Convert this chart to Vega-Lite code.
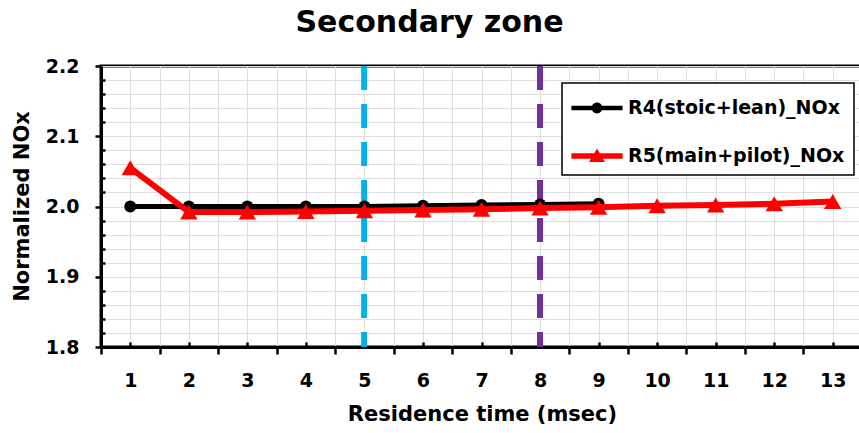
{
  "$schema": "https://vega.github.io/schema/vega-lite/v6.json",
  "width": 761,
  "height": 281,
  "autosize": "none",
  "padding": {"left": 101, "top": 66, "right": 0, "bottom": 86},
  "background": "white",
  "title": {
    "text": "Secondary zone",
    "font": "DejaVu Sans",
    "fontWeight": "bold",
    "fontSize": 30,
    "color": "black",
    "anchor": "middle",
    "dx": -52,
    "dy": 10,
    "baseline": "alphabetic",
    "offset": 5
  },
  "config": {
    "view": {"stroke": "black", "strokeWidth": 3},
    "axis": {
      "labelFont": "DejaVu Sans",
      "labelFontWeight": "bold",
      "labelFontSize": 19,
      "labelColor": "black",
      "titleFont": "DejaVu Sans",
      "titleFontWeight": "bold",
      "titleFontSize": 21,
      "titleColor": "black",
      "domainColor": "black",
      "domainWidth": 3,
      "tickColor": "black",
      "gridColor": "#dedede",
      "gridWidth": 1
    }
  },
  "datasets": {
    "nox": [
      {"t": 1, "series": "R4(stoic+lean)_NOx", "nox": 2.000},
      {"t": 2, "series": "R4(stoic+lean)_NOx", "nox": 2.000},
      {"t": 3, "series": "R4(stoic+lean)_NOx", "nox": 2.000},
      {"t": 4, "series": "R4(stoic+lean)_NOx", "nox": 2.000},
      {"t": 5, "series": "R4(stoic+lean)_NOx", "nox": 2.000},
      {"t": 6, "series": "R4(stoic+lean)_NOx", "nox": 2.001},
      {"t": 7, "series": "R4(stoic+lean)_NOx", "nox": 2.002},
      {"t": 8, "series": "R4(stoic+lean)_NOx", "nox": 2.003},
      {"t": 9, "series": "R4(stoic+lean)_NOx", "nox": 2.004},
      {"t": 1, "series": "R5(main+pilot)_NOx", "nox": 2.055},
      {"t": 2, "series": "R5(main+pilot)_NOx", "nox": 1.992},
      {"t": 3, "series": "R5(main+pilot)_NOx", "nox": 1.992},
      {"t": 4, "series": "R5(main+pilot)_NOx", "nox": 1.993},
      {"t": 5, "series": "R5(main+pilot)_NOx", "nox": 1.994},
      {"t": 6, "series": "R5(main+pilot)_NOx", "nox": 1.995},
      {"t": 7, "series": "R5(main+pilot)_NOx", "nox": 1.996},
      {"t": 8, "series": "R5(main+pilot)_NOx", "nox": 1.998},
      {"t": 9, "series": "R5(main+pilot)_NOx", "nox": 1.999},
      {"t": 10, "series": "R5(main+pilot)_NOx", "nox": 2.001},
      {"t": 11, "series": "R5(main+pilot)_NOx", "nox": 2.002},
      {"t": 12, "series": "R5(main+pilot)_NOx", "nox": 2.004},
      {"t": 13, "series": "R5(main+pilot)_NOx", "nox": 2.007}
    ]
  },
  "data": {"name": "nox"},
  "encoding": {
    "x": {
      "field": "t",
      "type": "quantitative",
      "scale": {"domain": [0.5, 13.5], "nice": false, "zero": false},
      "axis": {
        "title": "Residence time (msec)",
        "titleX": 381,
        "titleY": 67,
        "titleBaseline": "middle",
        "titleAlign": "center",
        "values": [0.5, 1, 1.5, 2, 2.5, 3, 3.5, 4, 4.5, 5, 5.5, 6, 6.5, 7, 7.5, 8, 8.5, 9, 9.5, 10, 10.5, 11, 11.5, 12, 12.5, 13, 13.5],
        "labelExpr": "datum.value % 1 == 0 ? format(datum.value, 'd') : ''",
        "labelPadding": 29,
        "labelFlush": false,
        "labelOverlap": false,
        "grid": true,
        "tickWidth": 2.5,
        "tickSize": {"condition": {"test": "datum.value % 1 == 0", "value": -5}, "value": 7}
      }
    },
    "y": {
      "field": "nox",
      "type": "quantitative",
      "scale": {"domain": [1.8, 2.2], "nice": false, "zero": false},
      "axis": {
        "title": "Normalized NOx",
        "titleX": -79,
        "titleY": 140,
        "titleAngle": -90,
        "titleBaseline": "middle",
        "titleAlign": "center",
        "values": [1.8, 1.82, 1.84, 1.86, 1.88, 1.9, 1.92, 1.94, 1.96, 1.98, 2.0, 2.02, 2.04, 2.06, 2.08, 2.1, 2.12, 2.14, 2.16, 2.18, 2.2],
        "labelExpr": "abs(datum.value * 10 - round(datum.value * 10)) < 0.001 ? format(datum.value, '.1f') : ''",
        "labelPadding": 16,
        "labelOverlap": false,
        "grid": true,
        "tickWidth": 2.5,
        "tickSize": {"condition": {"test": "abs(datum.value * 10 - round(datum.value * 10)) < 0.001", "value": 6}, "value": -4}
      }
    },
    "color": {
      "field": "series",
      "type": "nominal",
      "scale": {"domain": ["R4(stoic+lean)_NOx", "R5(main+pilot)_NOx"], "range": ["#000000", "#ff0000"]},
      "legend": {
        "title": null,
        "orient": "none",
        "legendX": 461,
        "legendY": 17,
        "direction": "vertical",
        "strokeColor": "black",
        "fillColor": "white",
        "padding": 9,
        "symbolSize": 1024,
        "symbolOffset": 10,
        "symbolStrokeWidth": 0,
        "labelFont": "DejaVu Sans",
        "labelFontWeight": "bold",
        "labelFontSize": 19,
        "labelColor": "black",
        "labelOffset": 15,
        "rowPadding": 22,
        "labelLimit": 400,
        "encode": {
          "legend": {"update": {"strokeWidth": {"value": 1.5}}},
          "symbols": {
            "update": {
              "shape": {"signal": "datum.value == 'R4(stoic+lean)_NOx' ? 'M-1.6,-0.14H1.6V0.14H-1.6Z M0,-0.34A0.34,0.34,0,1,1,0,0.34A0.34,0.34,0,1,1,0,-0.34Z' : 'M-1.6,-0.17H1.6V0.17H-1.6Z M0,-0.47L0.5,0.37L-0.5,0.37Z'"},
              "fill": {"signal": "datum.value == 'R4(stoic+lean)_NOx' ? '#000000' : '#ff0000'"},
              "fillOpacity": {"value": 1},
              "strokeWidth": {"value": 0}
            }
          }
        }
      }
    }
  },
  "layer": [
    {
      "mark": {"type": "rule", "color": "#00b0f0", "strokeWidth": 5, "strokeDash": [24, 14]},
      "encoding": {"x": {"datum": 5}, "y": null, "color": null}
    },
    {
      "mark": {"type": "rule", "color": "#7030a0", "strokeWidth": 5, "strokeDash": [24, 14]},
      "encoding": {"x": {"datum": 8}, "y": null, "color": null}
    },
    {
      "transform": [{"filter": "datum.series == 'R4(stoic+lean)_NOx'"}],
      "mark": {"type": "line", "strokeWidth": 5}
    },
    {
      "transform": [{"filter": "datum.series == 'R4(stoic+lean)_NOx'"}],
      "mark": {"type": "point", "shape": "circle", "filled": true, "size": 144, "opacity": 1}
    },
    {
      "transform": [{"filter": "datum.series == 'R5(main+pilot)_NOx'"}],
      "mark": {"type": "line", "strokeWidth": 6}
    },
    {
      "transform": [{"filter": "datum.series == 'R5(main+pilot)_NOx'"}],
      "mark": {"type": "point", "shape": "triangle-up", "filled": true, "size": 300, "opacity": 1}
    }
  ]
}
